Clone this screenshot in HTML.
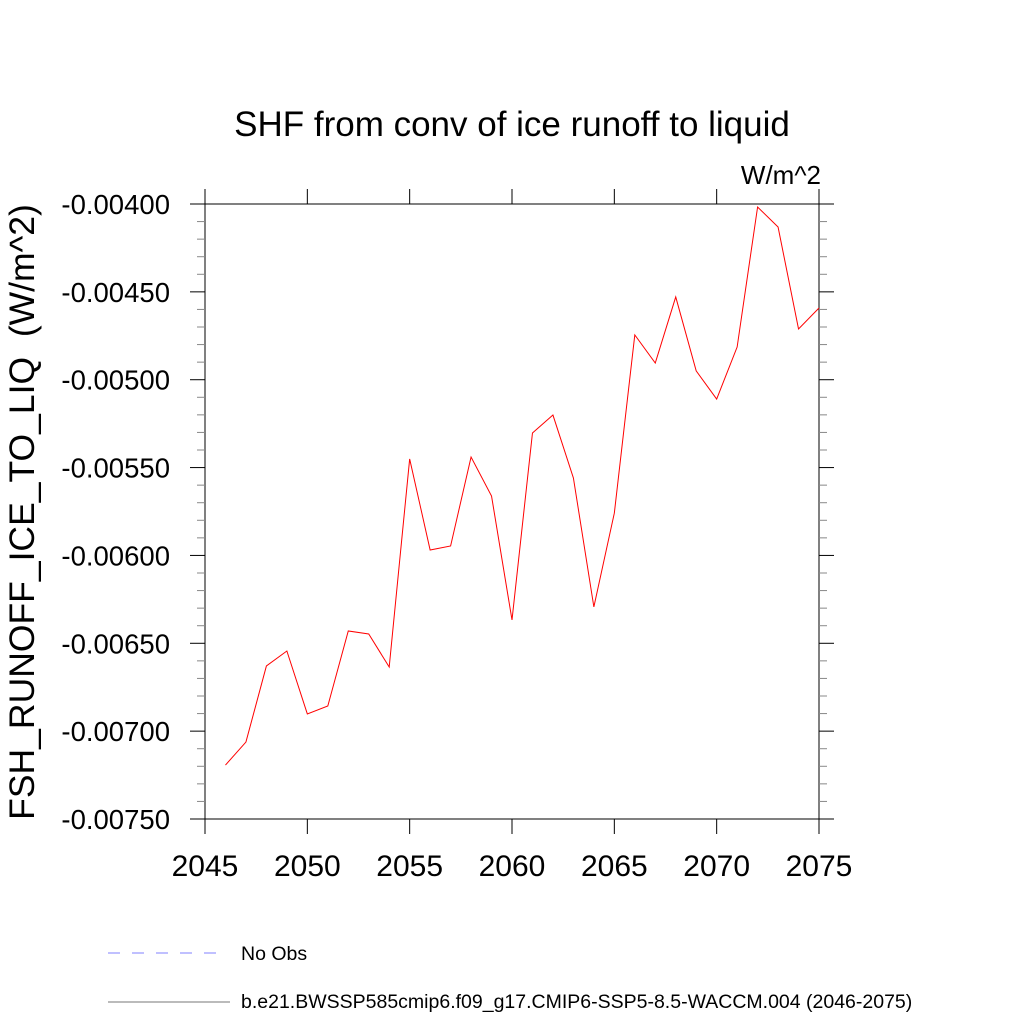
<!DOCTYPE html>
<html><head><meta charset="utf-8"><style>
body{margin:0;background:#fff}
svg{display:block;font-family:"Liberation Sans",sans-serif}
</style></head><body>
<svg id="c" width="1024" height="1024" viewBox="0 0 1024 1024">
<text x="512" y="136" font-size="35" text-anchor="middle">SHF from conv of ice runoff to liquid</text>
<text x="821" y="184" font-size="26" text-anchor="end">W/m^2</text>
<text transform="translate(34,512) rotate(-90)" font-size="35.5" text-anchor="middle">FSH_RUNOFF_ICE_TO_LIQ&#160; (W/m^2)</text>
<g id="ax"></g>
<g id="leg">
<line x1="108" y1="953" x2="218" y2="953" stroke="#8080ff" stroke-width="1" stroke-dasharray="12,12"/>
<text x="241" y="960" font-size="19.5">No Obs</text>
<line x1="108" y1="1002" x2="230" y2="1002" stroke="#777" stroke-width="1"/>
<text x="241" y="1008" font-size="19.5">b.e21.BWSSP585cmip6.f09_g17.CMIP6-SSP5-8.5-WACCM.004 (2046-2075)</text>
</g>
</svg>
<script>
const years=[2046,2047,2048,2049,2050,2051,2052,2053,2054,2055,2056,2057,2058,2059,2060,2061,2062,2063,2064,2065,2066,2067,2068,2069,2070,2071,2072,2073,2074,2075];
const values=[-0.007193,-0.007062,-0.006629,-0.006544,-0.006902,-0.006857,-0.006430,-0.006447,-0.006635,-0.005451,-0.005969,-0.005946,-0.005440,-0.005662,-0.006367,-0.005303,-0.005201,-0.005559,-0.006293,-0.005759,-0.004745,-0.004905,-0.004529,-0.004950,-0.005110,-0.004814,-0.004017,-0.004131,-0.004711,-0.004592];
const xTicks=[2045,2050,2055,2060,2065,2070,2075];
const yTicks=[-0.004,-0.0045,-0.005,-0.0055,-0.006,-0.0065,-0.007,-0.0075];
const yTickLabels=["-0.00400","-0.00450","-0.00500","-0.00550","-0.00600","-0.00650","-0.00700","-0.00750"];
const L=205,R=819,T=204,B=819;
const X=v=>L+(v-2045)/30*(R-L);
const Y=v=>T+(-0.004-v)/0.0035*(B-T);
const NS="http://www.w3.org/2000/svg";
const ax=document.getElementById('ax');
function mk(t,a,p){const e=document.createElementNS(NS,t);for(const k in a)e.setAttribute(k,a[k]);(p||ax).appendChild(e);return e;}
const fr=mk('rect',{x:L,y:T,width:R-L,height:B-T,fill:'none',stroke:'#000','stroke-width':1});


xTicks.forEach(v=>{
 const x=X(v);
 mk('line',{x1:x,y1:B,x2:x,y2:B+15,stroke:'#000'});
 mk('line',{x1:x,y1:T,x2:x,y2:T-15,stroke:'#000'});
 const t=mk('text',{x:x,y:B+57,'font-size':30,'text-anchor':'middle'});t.textContent=v;
 
 
});
for(let i=0;i<=35;i++){
 const v=-0.004-i*0.0001, y=Y(v), maj=i%5===0;
 const len=maj?15:8, col=maj?'#000':'#888';
 mk('line',{x1:L,y1:y,x2:L-len,y2:y,stroke:col});
 mk('line',{x1:R,y1:y,x2:R+len,y2:y,stroke:col});
}
yTicks.forEach((v,i)=>{
 const t=mk('text',{x:170,y:Y(v)+10,'font-size':27.5,'text-anchor':'end'});t.textContent=yTickLabels[i];
 
 
});
const ln=mk('polyline',{points:years.map((y,i)=>X(y)+','+Y(values[i])).join(' '),fill:'none',stroke:'#ff0000','stroke-width':1});


</script>
</body></html>
